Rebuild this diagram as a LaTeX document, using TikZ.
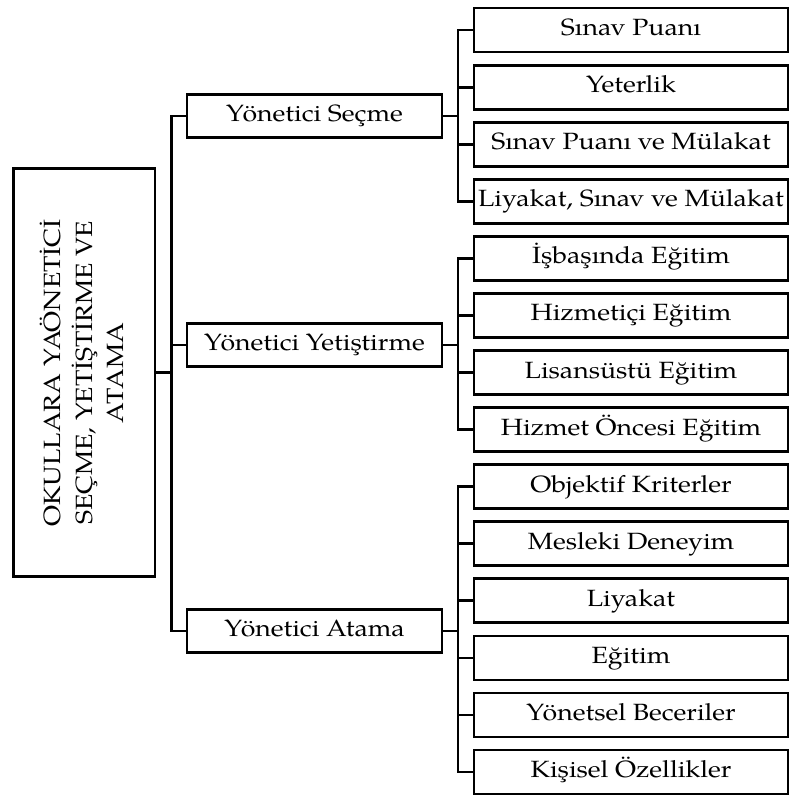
\documentclass[tikz,border=0pt]{standalone}
\usepackage{fontspec}
\setmainfont{TeX Gyre Pagella}[FakeStretch=1.135]
\begin{document}
\begin{tikzpicture}[x=1pt,y=-1pt,line width=2.8pt,line join=miter,
  boxbase/.style={draw=black,rectangle,inner sep=0pt,
    font=\fontsize{23.5}{31}\selectfont,text height=16pt,text depth=5pt},
  rootbox/.style={draw=black,rectangle,inner sep=0pt,
    minimum width=141.5pt,minimum height=408pt},
  roottext/.style={inner sep=0pt,rotate=90,align=center,
    font=\fontsize{23.5}{31.5}\selectfont},
  midbox/.style={boxbase,minimum width=255pt,minimum height=43pt},
  leafbox/.style={boxbase,minimum width=314pt,minimum height=44pt}]
\useasboundingbox (0,0) rectangle (790,796);

% root
\node[rootbox] (root) at (84.25,372.5) {};
\node[roottext] (roottxt) at (82,373) {OKULLARA YAÖNETİCİ\\SEÇME, YETİŞTİRME VE\\ATAMA};

% level 1
\node[midbox] (sec) at (314.5,116) {Yönetici Seçme};
\node[midbox] (yet) at (314.5,345) {Yönetici Yetiştirme};
\node[midbox] (ata) at (314.5,631) {Yönetici Atama};

% level 2
\node[leafbox] (c1)  at (631,30)    {Sınav Puanı};
\node[leafbox] (c2)  at (631,87.1)  {Yeterlik};
\node[leafbox] (c3)  at (631,144.2) {Sınav Puanı ve Mülakat};
\node[leafbox] (c4)  at (631,201.2) {Liyakat, Sınav ve Mülakat};
\node[leafbox] (c5)  at (631,258.3) {İşbaşında Eğitim};
\node[leafbox] (c6)  at (631,315.4) {Hizmetiçi Eğitim};
\node[leafbox] (c7)  at (631,372.5) {Lisansüstü Eğitim};
\node[leafbox] (c8)  at (631,429.6) {Hizmet Öncesi Eğitim};
\node[leafbox] (c9)  at (631,486.6) {Objektif Kriterler};
\node[leafbox] (c10) at (631,543.7) {Mesleki Deneyim};
\node[leafbox] (c11) at (631,600.8) {Liyakat};
\node[leafbox] (c12) at (631,657.9) {Eğitim};
\node[leafbox] (c13) at (631,714.9) {Yönetsel Beceriler};
\node[leafbox] (c14) at (631,772)   {Kişisel Özellikler};

% trunk coordinates
\coordinate (t0) at (171.5,0);
\coordinate (t1) at (458,0);

% root to level 1
\draw (root.east) -- (root.east -| t0);
\draw (sec.west) -- (sec.west -| t0) -- (ata.west -| t0) -- (ata.west);
\draw (yet.west) -- (yet.west -| t0);

% Yönetici Seçme group
\draw (sec.east) -- (sec.east -| t1);
\draw (c1.west) -- (c1.west -| t1) -- (c4.west -| t1) -- (c4.west);
\draw (c2.west) -- (c2.west -| t1);
\draw (c3.west) -- (c3.west -| t1);

% Yönetici Yetiştirme group
\draw (yet.east) -- (yet.east -| t1);
\draw (c5.west) -- (c5.west -| t1) -- (c8.west -| t1) -- (c8.west);
\draw (c6.west) -- (c6.west -| t1);
\draw (c7.west) -- (c7.west -| t1);

% Yönetici Atama group
\draw (ata.east) -- (ata.east -| t1);
\draw (c9.west) -- (c9.west -| t1) -- (c14.west -| t1) -- (c14.west);
\draw (c10.west) -- (c10.west -| t1);
\draw (c11.west) -- (c11.west -| t1);
\draw (c12.west) -- (c12.west -| t1);
\draw (c13.west) -- (c13.west -| t1);
\end{tikzpicture}
\end{document}
